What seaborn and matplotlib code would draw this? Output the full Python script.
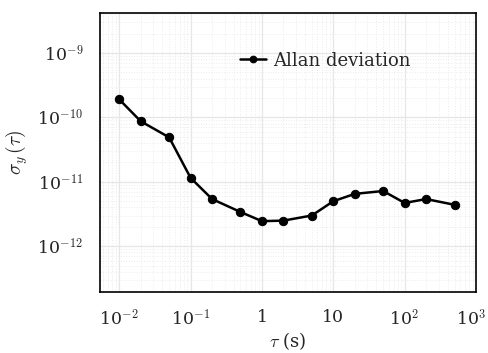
import numpy as np
import pandas as pd
import matplotlib
matplotlib.use("Agg")
import matplotlib.pyplot as plt
import matplotlib.transforms as mtransforms
import seaborn as sns

tau = [0.01, 0.02, 0.05, 0.1, 0.2, 0.5, 1, 2, 5, 10, 20, 50, 100, 200, 500]
adev = [1.9e-10, 8.7e-11, 4.9e-11, 1.15e-11, 5.4e-12, 3.4e-12, 2.45e-12,
        2.5e-12, 3.0e-12, 5.0e-12, 6.5e-12, 7.2e-12, 4.7e-12, 5.4e-12, 4.4e-12]
xtick_labels = ["10$^{-2}$", "10$^{-1}$", "1", "10", "10$^{2}$", "10$^{3}$"]
ytick_labels = ["10$^{-12}$", "10$^{-11}$", "10$^{-10}$", "10$^{-9}$"]

df = pd.DataFrame({"tau": tau, "adev": adev})

sns.set_style("white")
plt.rcParams["font.family"] = ["DejaVu Serif"]
plt.rcParams["mathtext.fontset"] = "cm"

fig = plt.figure(figsize=(4.89, 3.53), dpi=100)
ax = fig.add_axes([100 / 489, 61 / 353, 376 / 489, 279 / 353])

sns.lineplot(data=df, x="tau", y="adev", ax=ax, color="black", marker="o",
             markersize=6, linewidth=1.8, markeredgecolor="black",
             label="Allan deviation")

ax.set_xscale("log")
ax.set_yscale("log")
ax.set_xlim(10 ** -2.27, 10 ** 3)
ax.set_ylim(10 ** -12.71, 10 ** -8.38)

ax.set_xticks([1e-2, 1e-1, 1, 10, 1e2, 1e3])
ax.set_xticklabels(xtick_labels)
ax.set_yticks([1e-12, 1e-11, 1e-10, 1e-9])
ax.set_yticklabels(ytick_labels)
ax.minorticks_on()
ax.tick_params(which="minor", length=0)
ax.tick_params(which="major", direction="out", length=7, width=1.2,
               color="#555555", labelsize=12.5, pad=5)

# nudge the last x tick label so it stays inside the figure
last = ax.get_xticklabels()[-1]
last.set_transform(last.get_transform() +
                   mtransforms.ScaledTranslation(-5 / 100, 0, fig.dpi_scale_trans))

ax.grid(True, which="major", color="#e6e6e6", linewidth=0.9)
ax.grid(True, which="minor", color="#ececec", linewidth=0.7, linestyle=":")
ax.set_axisbelow(True)

for s in ax.spines.values():
    s.set_color("black")
    s.set_linewidth(1.2)

ax.set_xlabel(r"$\tau$ (s)", fontsize=13, labelpad=1)
ax.set_ylabel(r"$\sigma_y\,(\tau)$", fontsize=14, labelpad=5)

ax.legend(loc="upper left", bbox_to_anchor=(0.33, 0.92), frameon=False,
          fontsize=13, handlelength=1.4, handletextpad=0.4, markerscale=0.8)

fig.savefig("out.png", dpi=100)
